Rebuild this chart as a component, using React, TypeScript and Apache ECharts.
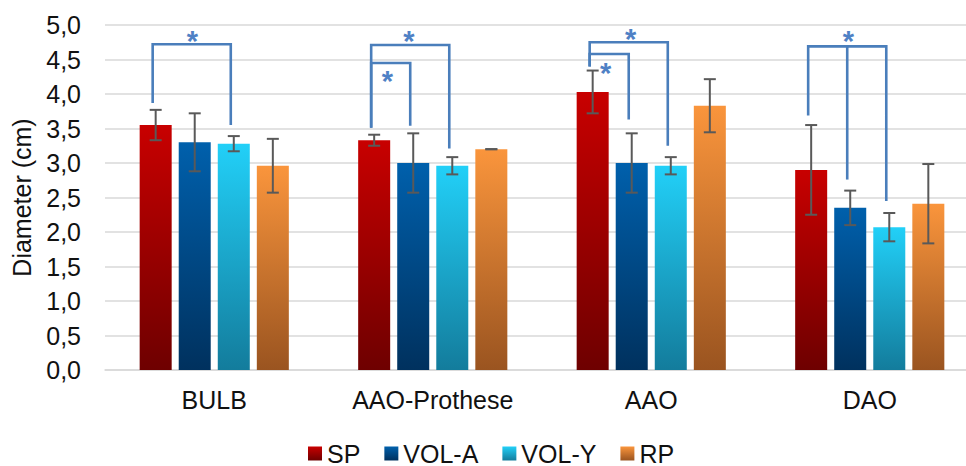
import React, { useEffect, useRef } from "react";
import * as echarts from "echarts";

const categories = ["BULB", "AAO-Prothese", "AAO", "DAO"];
const seriesNames = ["SP", "VOL-A", "VOL-Y", "RP"];
const spMean = [3.55, 3.33, 4.03, 2.9];
const spErr = [0.22, 0.08, 0.31, 0.65];
const volAMean = [3.3, 3.0, 3.0, 2.35];
const volAErr = [0.42, 0.43, 0.43, 0.25];
const volYMean = [3.28, 2.96, 2.96, 2.07];
const volYErr = [0.11, 0.125, 0.125, 0.205];
const rpMean = [2.96, 3.2, 3.83, 2.41];
const rpErr = [0.39, 0.0, 0.385, 0.575];
const yTicks = [0, 0.5, 1, 1.5, 2, 2.5, 3, 3.5, 4, 4.5, 5];

// significance brackets: [category, fromSeries, toSeries, fromBottom, toBottom, top]
const brackets = [
  [0, 0, 2, 3.87, 3.55, 4.72],
  [1, 0, 2, 3.51, 3.21, 4.71],
  [1, 0, 1, 3.51, 3.54, 4.45],
  [2, 0, 2, 4.4, 3.25, 4.75],
  [2, 0, 1, 4.4, 3.63, 4.58],
  [3, 0, 2, 3.69, 2.45, 4.69],
];
// extra legs: [category, series, bottom, top]
const middleLegs = [[3, 1, 2.76, 4.69]];
// stars: [category, seriesPosition, value]
const stars = [
  [0, 0.94, 4.83],
  [1, 0.89, 4.82],
  [1, 0.34, 4.24],
  [2, 0.97, 4.85],
  [2, 0.33, 4.36],
  [3, 0.955, 4.82],
];

const means = [spMean, volAMean, volYMean, rpMean];
const errs = [spErr, volAErr, volYErr, rpErr];
const colorStops = [
  ["#c80000", "#6e0000"],
  ["#0060ac", "#00315e"],
  ["#22d0f8", "#137c9c"],
  ["#fa953c", "#9a5420"],
];

const BAR_FRAC = 0.1465;
const GAP_FRAC = 0.22;
const FONT = "'Liberation Sans', Arial, sans-serif";
const BLUE = "#4a7ebb";

function barX(api: any, cat: number, pos: number) {
  const center = api.coord([cat, 0])[0];
  const band = api.size([1, 0])[0];
  const bw = band * BAR_FRAC;
  const pitch = bw * (1 + GAP_FRAC);
  return center + (pos - 1.5) * pitch;
}

export default function App() {
  const ref = useRef<HTMLDivElement>(null);
  useEffect(() => {
    if (!ref.current) return;
    const chart = echarts.init(ref.current, undefined, { renderer: "svg" });

    const barSeries = seriesNames.map((name, i) => ({
      name,
      type: "bar",
      data: means[i],
      barWidth: BAR_FRAC * 100 + "%",
      barGap: GAP_FRAC * 100 + "%",
      itemStyle: {
        color: new echarts.graphic.LinearGradient(0, 0, 0, 1, [
          { offset: 0, color: colorStops[i][0] },
          { offset: 1, color: colorStops[i][1] },
        ]),
      },
      z: 2,
    }));

    const errSeries = seriesNames.map((name, i) => ({
      type: "custom",
      coordinateSystem: "cartesian2d",
      data: means[i].map((m, c) => [c, m - errs[i][c], m + errs[i][c]]),
      encode: { x: 0, y: [1, 2] },
      z: 5,
      silent: true,
      renderItem: (params: any, api: any) => {
        const cat = api.value(0);
        const x = barX(api, cat, i);
        const yl = api.coord([cat, api.value(1)])[1];
        const yh = api.coord([cat, api.value(2)])[1];
        const cap = 6;
        const st = { stroke: "#595959", lineWidth: 2, fill: "none" };
        return {
          type: "group",
          children: [
            { type: "line", shape: { x1: x, y1: yl, x2: x, y2: yh }, style: st },
            { type: "line", shape: { x1: x - cap, y1: yl, x2: x + cap, y2: yl }, style: st },
            { type: "line", shape: { x1: x - cap, y1: yh, x2: x + cap, y2: yh }, style: st },
          ],
        };
      },
    }));

    const LEG_OFF = -3;
    const bracketSeries = {
      type: "custom",
      coordinateSystem: "cartesian2d",
      data: brackets,
      encode: { x: 0, y: 5 },
      z: 6,
      silent: true,
      clip: false,
      renderItem: (params: any, api: any) => {
        const cat = api.value(0);
        const x1 = barX(api, cat, api.value(1)) + LEG_OFF;
        const x2 = barX(api, cat, api.value(2)) + LEG_OFF;
        const yb1 = api.coord([cat, api.value(3)])[1];
        const yb2 = api.coord([cat, api.value(4)])[1];
        const yt = api.coord([cat, api.value(5)])[1];
        return {
          type: "polyline",
          shape: { points: [[x1, yb1], [x1, yt], [x2, yt], [x2, yb2]] },
          style: { stroke: BLUE, lineWidth: 2.6, fill: "none" },
        };
      },
    };

    const legSeries = {
      type: "custom",
      coordinateSystem: "cartesian2d",
      data: middleLegs,
      encode: { x: 0, y: 3 },
      z: 6,
      silent: true,
      clip: false,
      renderItem: (params: any, api: any) => {
        const cat = api.value(0);
        const x = barX(api, cat, api.value(1)) + LEG_OFF;
        const yb = api.coord([cat, api.value(2)])[1];
        const yt = api.coord([cat, api.value(3)])[1];
        return {
          type: "line",
          shape: { x1: x, y1: yb, x2: x, y2: yt },
          style: { stroke: BLUE, lineWidth: 2.6 },
        };
      },
    };

    const starSeries = {
      type: "custom",
      coordinateSystem: "cartesian2d",
      data: stars,
      encode: { x: 0, y: 2 },
      z: 7,
      silent: true,
      clip: false,
      renderItem: (params: any, api: any) => {
        const cat = api.value(0);
        const x = barX(api, cat, api.value(1));
        const y = api.coord([cat, api.value(2)])[1];
        return {
          type: "text",
          x,
          y: y + 4,
          style: {
            text: "*",
            fill: "#4f81c5",
            fontSize: 29,
            fontWeight: "bold",
            fontFamily: FONT,
            align: "center",
            verticalAlign: "middle",
          },
        };
      },
    };

    chart.setOption({
      animation: false,
      backgroundColor: "#ffffff",
      textStyle: { fontFamily: FONT },
      grid: {
        left: 105,
        top: 25,
        width: 874,
        height: 345,
        containLabel: false,
        outerBoundsMode: "none",
      },
      legend: {
        data: seriesNames,
        left: 308,
        top: 441,
        padding: 0,
        itemWidth: 14,
        itemHeight: 14,
        itemGap: 24,
        icon: "rect",
        textStyle: { fontSize: 25, color: "#111", fontFamily: FONT },
      },
      xAxis: {
        type: "category",
        data: categories,
        axisLine: { lineStyle: { color: "#d9d9d9", width: 1.5 } },
        axisTick: { show: false },
        axisLabel: { fontSize: 25, color: "#111", margin: 17, fontFamily: FONT },
      },
      yAxis: {
        type: "value",
        min: yTicks[0],
        max: yTicks[yTicks.length - 1],
        interval: yTicks[1] - yTicks[0],
        name: "Diameter (cm)",
        nameLocation: "middle",
        nameGap: 71,
        nameMoveOverlap: false,
        nameTextStyle: { fontSize: 25, color: "#111", fontFamily: FONT },
        axisLine: { show: false },
        axisTick: { show: false },
        splitLine: { lineStyle: { color: "#d9d9d9", width: 1.5 } },
        axisLabel: {
          fontSize: 25,
          color: "#111",
          margin: 24,
          fontFamily: FONT,
          formatter: (v: number) => v.toFixed(1).replace(".", ","),
        },
      },
      series: [...barSeries, ...errSeries, bracketSeries, legSeries, starSeries],
    });
    return () => chart.dispose();
  }, []);
  return (
    <div
      ref={ref}
      style={{ position: "fixed", left: 0, top: 0, width: 966, height: 466 }}
    />
  );
}
